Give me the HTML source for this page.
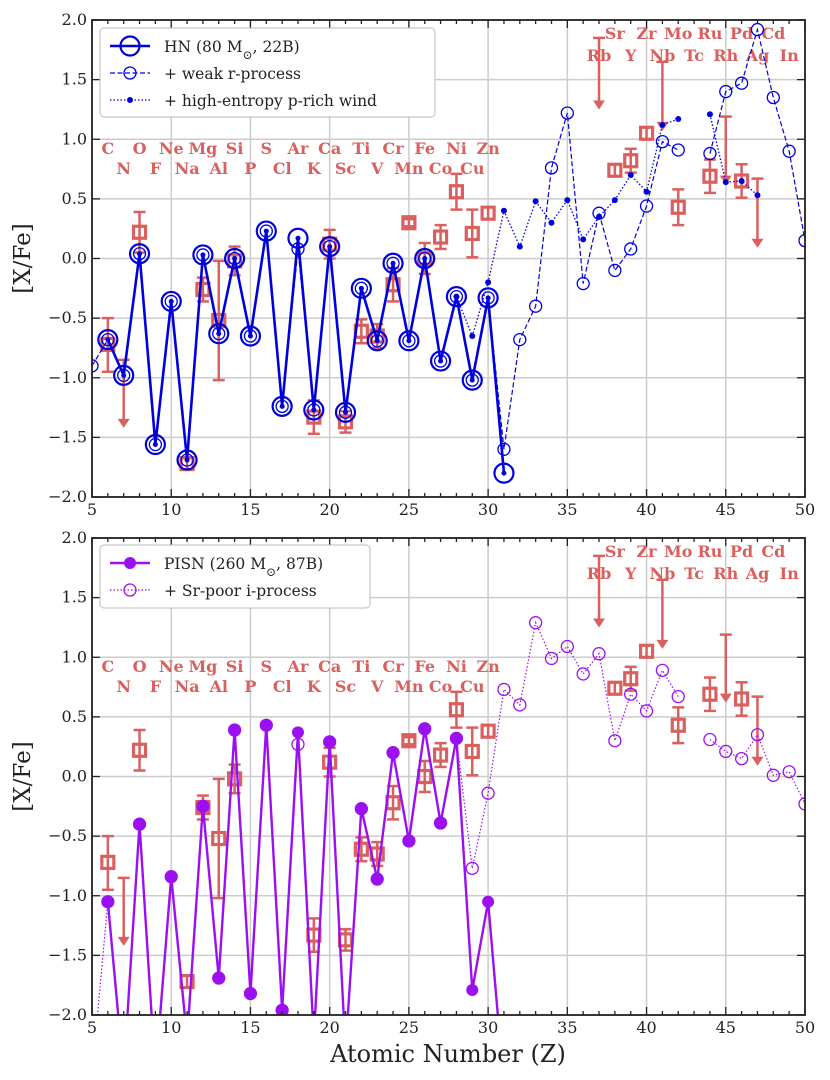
<!DOCTYPE html>
<html><head><meta charset="utf-8"><style>
body{margin:0;background:#fff}
svg{display:block;font-family:"DejaVu Serif","Liberation Serif",serif}
</style></head><body>
<svg id="c" width="830" height="1080" viewBox="0 0 830 1080" xmlns="http://www.w3.org/2000/svg"></svg>
<script>
const hnZ=[6,7,8,9,10,11,12,13,14,15,16,17,18,19,20,21,22,23,24,25,26,27,28,29,30,31];
const hnV=[-0.68,-0.98,0.04,-1.56,-0.36,-1.69,0.03,-0.63,0.0,-0.65,0.23,-1.24,0.17,-1.27,0.10,-1.29,-0.25,-0.69,-0.04,-0.69,0.0,-0.86,-0.32,-1.02,-0.33,-1.80];
const wrZ=[5,6,7,8,9,10,11,12,13,14,15,16,17,18,19,20,21,22,23,24,25,26,27,28,29,30,31,32,33,34,35,36,37,38,39,40,41,42,44,45,46,47,48,49,50];
const wrV=[-0.9,-0.68,-0.98,0.04,-1.56,-0.36,-1.69,0.03,-0.63,0.0,-0.65,0.23,-1.24,0.08,-1.27,0.10,-1.29,-0.25,-0.69,-0.04,-0.69,0.0,-0.86,-0.32,-1.02,-0.33,-1.6,-0.68,-0.40,0.76,1.22,-0.21,0.38,-0.10,0.08,0.44,0.98,0.91,0.88,1.40,1.47,1.92,1.35,0.90,0.15];
const wZ=[28,29,30,31,32,33,34,35,36,37,38,39,40,41,42,44,45,46,47];
const wV=[-0.32,-0.65,-0.20,0.40,0.10,0.48,0.30,0.49,0.16,0.35,0.49,0.70,0.56,1.12,1.17,1.21,0.64,0.65,0.53];
const pZ=[6,7,8,9,10,11,12,13,14,15,16,17,18,19,20,21,22,23,24,25,26,27,28,29,30,31];
const pV=[-1.05,-2.5,-0.40,-2.5,-0.84,-2.2,-0.25,-1.69,0.39,-1.82,0.43,-1.96,0.37,-2.2,0.29,-2.3,-0.27,-0.86,0.20,-0.54,0.40,-0.39,0.32,-1.79,-1.05,-2.6];
const iZ=[5,6,7,8,9,10,11,12,13,14,15,16,17,18,19,20,21,22,23,24,25,26,27,28,29,30,31,32,33,34,35,36,37,38,39,40,41,42,44,45,46,47,48,49,50];
const iV=[-2.5,-1.05,-2.5,-0.40,-2.5,-0.84,-2.2,-0.25,-1.69,0.39,-1.82,0.43,-1.96,0.27,-2.2,0.29,-2.3,-0.27,-0.86,0.20,-0.54,0.40,-0.39,0.32,-0.77,-0.14,0.73,0.60,1.29,0.99,1.09,0.86,1.03,0.30,0.69,0.55,0.89,0.67,0.31,0.21,0.15,0.35,0.01,0.04,-0.23];
const obsZ=[6,8,11,12,13,14,19,20,21,22,23,24,25,26,27,28,29,30,38,39,40,42,44,46];
const obsV=[-0.72,0.22,-1.72,-0.26,-0.52,-0.02,-1.33,0.12,-1.37,-0.61,-0.65,-0.22,0.30,0.00,0.18,0.56,0.21,0.38,0.74,0.82,1.05,0.43,0.69,0.65];
const obsHi=[-0.50,0.39,-1.67,-0.16,-0.02,0.10,-1.19,0.24,-1.28,-0.51,-0.55,-0.08,0.33,0.13,0.28,0.71,0.41,0.43,0.79,0.92,1.10,0.58,0.83,0.79];
const obsLo=[-0.95,0.05,-1.77,-0.36,-1.02,-0.14,-1.47,0.00,-1.46,-0.71,-0.75,-0.36,0.27,-0.13,0.08,0.41,0.01,0.33,0.69,0.72,1.00,0.28,0.55,0.51];
const ulZ=[7,37,41,45,47];
const ulTop=[-0.85,1.85,1.65,1.19,0.67];
const ulBot=[-1.42,1.25,1.07,0.62,0.09];
const lab1=[[6,'C'],[8,'O'],[10,'Ne'],[12,'Mg'],[14,'Si'],[16,'S'],[18,'Ar'],[20,'Ca'],[22,'Ti'],[24,'Cr'],[26,'Fe'],[28,'Ni'],[30,'Zn']];
const lab2=[[7,'N'],[9,'F'],[11,'Na'],[13,'Al'],[15,'P'],[17,'Cl'],[19,'K'],[21,'Sc'],[23,'V'],[25,'Mn'],[27,'Co'],[29,'Cu']];
const lab3=[[38,'Sr'],[40,'Zr'],[42,'Mo'],[44,'Ru'],[46,'Pd'],[48,'Cd']];
const lab4=[[37,'Rb'],[39,'Y'],[41,'Nb'],[43,'Tc'],[45,'Rh'],[47,'Ag'],[49,'In']];
const xTicks=[5,10,15,20,25,30,35,40,45,50];
const yTicks=[-2.0,-1.5,-1.0,-0.5,0.0,0.5,1.0,1.5,2.0];

const NS='http://www.w3.org/2000/svg';
const svg=document.getElementById('c');
const L=92,R=805,OBS='#d9605e',BLUE='#0000dd',PUR='#9b10f0';
function sx(z){return L+(z-5)*(R-L)/45;}
function mk(tag,at,par){const e=document.createElementNS(NS,tag);for(const k in at)e.setAttribute(k,at[k]);(par||svg).appendChild(e);return e;}
function panel(top,bot,idx){
  const g=mk('g',{});
  
  
  const sy=v=>top+(2-v)*(bot-top)/4;
  const cid='clip'+idx;
  const cp=mk('clipPath',{id:cid},g);mk('rect',{x:L,y:top,width:R-L,height:bot-top},cp);
  xTicks.forEach(t=>mk('line',{x1:sx(t),x2:sx(t),y1:top,y2:bot,stroke:'#cccccc','stroke-width':1.5},g));
  yTicks.forEach(t=>mk('line',{x1:L,x2:R,y1:sy(t),y2:sy(t),stroke:'#cccccc','stroke-width':1.5},g));
  [[lab1,top+134],[lab2,top+154],[lab3,top+19],[lab4,top+41]].forEach(([ls,y])=>ls.forEach(([z,s])=>{const t=mk('text',{x:sx(z),y:y,'font-size':16,'font-weight':'bold',fill:OBS,'text-anchor':'middle'},g);t.textContent=s;}));
  const og=mk('g',{},g);
  
  
  obsZ.forEach((z,i)=>{const x=sx(z);
    mk('line',{x1:x,x2:x,y1:sy(obsHi[i]),y2:sy(obsLo[i]),stroke:OBS,'stroke-width':2.5},og);
    [obsHi[i],obsLo[i]].forEach(v=>mk('line',{x1:x-6,x2:x+6,y1:sy(v),y2:sy(v),stroke:OBS,'stroke-width':2.5},og));
    mk('rect',{x:x-6,y:sy(obsV[i])-6,width:12,height:12,fill:'none',stroke:OBS,'stroke-width':3.2},og);});
  ulZ.forEach((z,i)=>{const x=sx(z),y1=sy(ulTop[i]),y2=sy(ulBot[i]);
    mk('line',{x1:x-6,x2:x+6,y1:y1,y2:y1,stroke:OBS,'stroke-width':2.5},og);
    mk('line',{x1:x,x2:x,y1:y1,y2:y2-8,stroke:OBS,'stroke-width':2.5},og);
    mk('polygon',{points:`${x-6},${y2-9} ${x+6},${y2-9} ${x},${y2}`,fill:OBS},og);});
  const sg=mk('g',{'clip-path':`url(#${cid})`},g);
  function series(Z,V,name,color,dash,w,mark,r){
    const s=mk('g',{},sg);
    
    
    let segs=[],cur=[];
    Z.forEach((z,i)=>{if(i>0&&z-Z[i-1]>1){segs.push(cur);cur=[];}cur.push(sx(z)+','+sy(V[i]));});segs.push(cur);
    segs.forEach(sg2=>mk('polyline',{points:sg2.join(' '),fill:'none',stroke:color,'stroke-width':w,'stroke-dasharray':dash},s));
    Z.forEach((z,i)=>{if(mark==='open')mk('circle',{cx:sx(z),cy:sy(V[i]),r:r,fill:'none',stroke:color,'stroke-width':w<2?1.3:2.2},s);
      else mk('circle',{cx:sx(z),cy:sy(V[i]),r:r,fill:color},s);});
  }
  if(idx===1){
    series(wrZ,wrV,'weak-r-process-series',BLUE,'5,2.5',1.2,'open',6);
    series(wZ,wV,'p-rich-wind-series',BLUE,'1.5,2',1.3,'dot',3);
    series(hnZ,hnV,'hn-series',BLUE,'none',2.6,'open',9.5);
    hnZ.forEach((z,i)=>mk('circle',{cx:sx(z),cy:sy(hnV[i]),r:2.5,fill:BLUE},sg));
  } else {
    series(iZ,iV,'sr-poor-i-process-series',PUR,'1.5,2',1.2,'open',6);
    series(pZ,pV,'pisn-series',PUR,'none',2.4,'dot',6);
  }
  mk('rect',{x:L,y:top,width:R-L,height:bot-top,fill:'none',stroke:'#222','stroke-width':1.8},g);
  for(let z=5;z<=50;z++){const maj=z%5===0,x=sx(z);
    mk('line',{x1:x,x2:x,y1:bot,y2:bot-(maj?8:4),stroke:'#222','stroke-width':1.3},g);
    mk('line',{x1:x,x2:x,y1:top,y2:top+(maj?8:4),stroke:'#222','stroke-width':1.3},g);}
  xTicks.forEach(t=>{const e=mk('text',{x:sx(t),y:bot+18,'font-size':16,'text-anchor':'middle',fill:'#222'},g);e.textContent=t;});
  yTicks.forEach(t=>{mk('line',{x1:L,x2:L+8,y1:sy(t),y2:sy(t),stroke:'#222','stroke-width':1.3},g);mk('line',{x1:R,x2:R-8,y1:sy(t),y2:sy(t),stroke:'#222','stroke-width':1.3},g);
    const e=mk('text',{x:L-5,y:sy(t)+5,'font-size':16,'text-anchor':'end',fill:'#222'},g);e.textContent=(t<0?'\u2212':'')+Math.abs(t).toFixed(1);});
  const yl=mk('text',{x:0,y:0,'font-size':23,'text-anchor':'middle',transform:`translate(30,${(top+bot)/2}) rotate(-90)`,fill:'#222'},g);
  yl.textContent='[X/Fe]';
  
  
  return sy;
}
panel(20,497,1);panel(538,1015,2);
const xl=mk('text',{x:448,y:1062,'font-size':24,'text-anchor':'middle',fill:'#222'});
xl.textContent='Atomic Number (Z)';


function legend(x,y,w,h,items,name){
  const g=mk('g',{});
  
  
  mk('rect',{x:x,y:y,width:w,height:h,rx:4,fill:'#fff',stroke:'#bbb','stroke-width':1},g);
  items.forEach((it,i)=>{const cy=y+18+i*27,c=it.c;
    mk('line',{x1:x+10,x2:x+50,y1:cy,y2:cy,stroke:c,'stroke-width':it.w,'stroke-dasharray':it.d},g);
    if(it.m==='open')mk('circle',{cx:x+30,cy:cy,r:it.r,fill:'none',stroke:c,'stroke-width':it.w>2?2.2:1.3},g);
    else mk('circle',{cx:x+30,cy:cy,r:it.r,fill:c},g);
    const t=mk('text',{x:x+64,y:cy+6,'font-size':15.5,fill:'#222'},g);t.innerHTML=it.t;
    
    });
}
legend(100,28,335,89,[
 {c:BLUE,w:2.6,d:'none',m:'open',r:9.5,t:'HN (80 M<tspan baseline-shift="sub" font-size="12">\u2299</tspan>, 22B)'},
 {c:BLUE,w:1.2,d:'5,2.5',m:'open',r:6,t:'+ weak r-process'},
 {c:BLUE,w:1.3,d:'1.5,2',m:'dot',r:3,t:'+ high-entropy p-rich wind'}],'legend-top');
legend(100,545,270,63,[
 {c:PUR,w:2.4,d:'none',m:'dot',r:6,t:'PISN (260 M<tspan baseline-shift="sub" font-size="12">\u2299</tspan>, 87B)'},
 {c:PUR,w:1.2,d:'1.5,2',m:'open',r:6,t:'+ Sr-poor i-process'}],'legend-bottom');
</script>
</body></html>
